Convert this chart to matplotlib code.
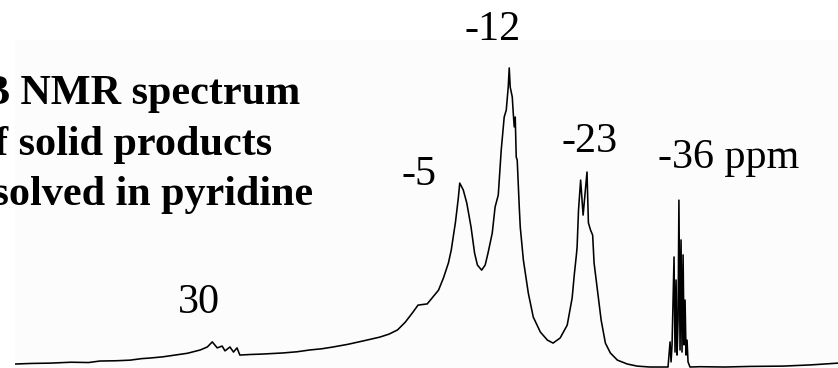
import matplotlib.pyplot as plt

# 11B spectrum, chemical shift (ppm) vs. intensity (arb. units, tallest peak = 100)
shift_ppm = [
    57.9, 55.5, 52.9, 50.0, 47.5, 45.9, 43.5, 41.6, 40.0, 38.8, 37.0, 35.2,
    33.5, 31.7, 30.7, 30.0, 29.3, 28.6, 28.2, 27.5, 27.0, 26.5, 26.1, 24.5,
    23.2, 21.5, 20.0, 18.0, 16.2, 14.5, 12.9, 10.8, 8.7, 6.3, 5.0, 3.8,
    2.7, 1.6, 0.9, -0.4, -1.2, -2.0, -2.7, -3.4, -3.8, -4.4, -4.8, -5.0,
    -5.5, -6.0, -6.6, -7.1, -7.5, -8.1, -8.6, -9.0, -9.6, -10.0, -10.45, -10.87,
    -11.29, -11.58, -11.86, -12.0, -12.14, -12.43, -12.57, -12.71, -12.85, -12.99, -13.13, -13.27,
    -13.42, -13.56, -14.0, -14.7, -15.4, -16.4, -17.4, -18.2, -19.2, -20.2, -20.9, -21.2,
    -21.5, -21.6, -21.8, -22.1, -22.45, -23.0, -23.2, -23.5, -23.8, -24.0, -24.6, -25.0,
    -25.6, -26.3, -27.3, -28.7, -30.1, -31.9,
    # BH4- quintet
    -34.46, -34.75, -34.89, -35.03, -35.31, -35.45, -35.60, -35.74, -35.88, -36.0,
    -36.16, -36.30, -36.44, -36.59, -36.73, -36.87, -37.01, -37.15, -37.29, -37.57,
    -39.0, -42.5, -46.1, -50.7, -54.6, -58.5,
]
intensity = [
    1.0, 1.2, 1.3, 1.6, 1.5, 2.0, 2.1, 2.3, 2.8, 3.0, 3.4, 4.0,
    4.6, 5.7, 6.7, 8.4, 6.4, 7.0, 5.4, 6.7, 5.0, 6.4, 4.0, 4.2,
    4.3, 4.5, 4.7, 5.1, 5.7, 6.1, 6.7, 7.6, 8.7, 10.0, 11.0, 12.4,
    15.0, 18.4, 20.7, 21.1, 23.4, 25.7, 29.8, 34.8, 39.1, 48.5, 56.5, 61.5,
    59.2, 54.8, 46.8, 38.1, 34.1, 32.4, 34.1, 38.1, 44.8, 53.5, 57.5, 72.6,
    83.6, 85.9, 93.6, 100.0, 93.6, 90.3, 84.9, 80.3, 83.6, 70.2, 69.2, 61.5,
    53.5, 46.8, 35.8, 24.7, 16.7, 11.7, 9.0, 8.0, 9.7, 14.0, 23.1, 30.8,
    37.5, 40.1, 52.5, 62.5, 50.8, 65.2, 48.2, 45.8, 44.1, 34.8, 23.4, 15.7,
    8.0, 4.7, 2.3, 1.0, 0.3, 0.0,
    0.0, 8.4, 1.7, 7.4, 36.8, 5.0, 29.1, 4.0, 15.7, 55.8,
    5.7, 42.5, 5.0, 37.5, 7.4, 22.4, 4.0, 9.0, 1.7, 0.0,
    0.1, 0.0, 0.2, 0.3, 0.7, 1.3,
]

# peak labels: text, ppm position, height, alignment
peak_labels = ["30", "-5", "-12", "-23", "-36 ppm"]
label_ppm = [31.85, 0.75, -9.7, -23.3, -33.1]
label_height = [18.1, 60.9, 109.4, 71.9, 66.5]
label_ha = ["center", "center", "center", "center", "left"]

title_lines = ["¹¹B NMR spectrum", "of solid products", "dissolved in pyridine"]
title_right = [300, 272, 313]  # right end of each line, pixels

plt.rcParams["font.family"] = ["Liberation Serif", "DejaVu Serif"]

fig = plt.figure(figsize=(8.38, 3.68), dpi=100)
ax = fig.add_axes([15 / 838, 0, 823 / 838, 328 / 368])
ax.set_facecolor("#fcfcfc")
ax.plot(shift_ppm, intensity, color="black", lw=1.15)
ax.set_xlim(57.9, -58.5)
ax.set_ylim(-0.33, 109.35)
for s in ax.spines.values():
    s.set_visible(False)
ax.set_xticks([])
ax.set_yticks([])

for txt, x, y, ha in zip(peak_labels, label_ppm, label_height, label_ha):
    ax.text(x, y, txt, ha=ha, va="baseline", fontsize=30.3, clip_on=False)

for i, line in enumerate(title_lines):
    fig.text(title_right[i] / 838, 1 - (104 + 50.5 * i) / 368, line, ha="right",
             va="baseline", fontsize=30.3, fontweight="bold")

fig.savefig("out.png", dpi=100, facecolor="white")
